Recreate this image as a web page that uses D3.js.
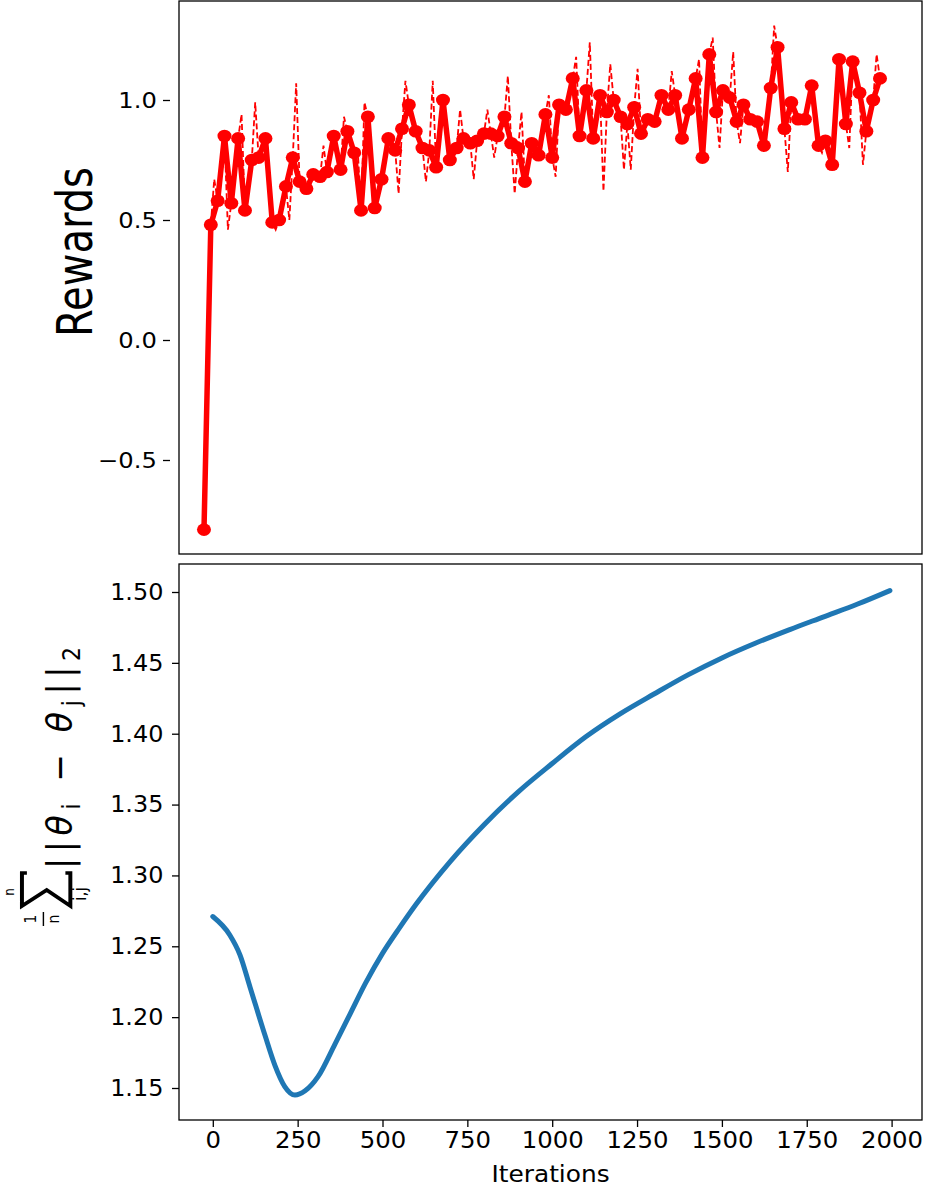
<!DOCTYPE html>
<html>
<head>
<meta charset="utf-8">
<script src="https://cdn.jsdelivr.net/npm/d3@7"></script>
<style>
body { margin: 0; background: #fff; }
svg { display: block; }
</style>
</head>
<body>
<script>
// rewards, one marker every sample
var rewards = [-0.79, 0.48, 0.58, 0.85, 0.57, 0.84, 0.54, 0.75, 0.76, 0.84,
  0.49, 0.50, 0.64, 0.76, 0.66, 0.63, 0.69, 0.68, 0.70, 0.85,
  0.71, 0.87, 0.78, 0.54, 0.93, 0.55, 0.67, 0.84, 0.79, 0.88,
  0.98, 0.87, 0.80, 0.79, 0.72, 1.00, 0.75, 0.80, 0.84, 0.82,
  0.83, 0.86, 0.86, 0.85, 0.93, 0.82, 0.80, 0.66, 0.82, 0.77,
  0.94, 0.76, 0.98, 0.96, 1.09, 0.85, 1.04, 0.84, 1.02, 0.95,
  1.00, 0.93, 0.90, 0.97, 0.86, 0.92, 0.91, 1.02, 0.96, 1.02,
  0.84, 0.96, 1.09, 0.76, 1.19, 0.95, 1.04, 1.01, 0.91, 0.98,
  0.92, 0.91, 0.81, 1.05, 1.22, 0.88, 0.99, 0.92, 0.92, 1.06,
  0.81, 0.83, 0.73, 1.17, 0.90, 1.16, 1.03, 0.87, 1.00, 1.09];

// raw rewards in between two markers (dashed line)
var rewardsBetween = [-0.16, 0.67, 0.72, 0.46, 0.70, 0.94, 0.64, 0.99, 0.80, 0.66,
  0.46, 0.57, 0.50, 1.07, 0.64, 0.66, 0.68, 0.81, 0.77, 0.78,
  0.93, 0.82, 0.80, 0.99, 0.74, 0.61, 0.75, 0.81, 0.61, 1.08,
  0.92, 0.83, 0.66, 1.08, 0.86, 0.87, 0.77, 0.96, 0.83, 0.67,
  0.84, 0.96, 0.76, 0.89, 1.10, 0.61, 0.95, 0.74, 0.80, 0.85,
  1.02, 0.68, 0.97, 1.02, 1.18, 0.95, 1.24, 0.93, 0.62, 1.15,
  0.96, 0.71, 0.71, 1.13, 0.89, 0.91, 0.97, 0.99, 1.12, 0.93,
  0.90, 1.03, 1.17, 0.97, 1.26, 0.80, 1.02, 1.20, 0.82, 0.95,
  0.91, 0.86, 0.93, 1.31, 1.05, 0.70, 0.96, 0.92, 0.99, 0.93,
  0.78, 0.78, 0.95, 1.03, 0.80, 1.10, 0.73, 0.94, 1.19];

// mean pairwise distance against iterations
var distIters = [0, 50, 80, 110, 154, 183, 212, 242, 272, 310, 360, 404, 450, 500, 550, 600, 700,
  800, 900, 1000, 1100, 1200, 1300, 1400, 1500, 1600, 1700, 1800, 1900, 1995];
var distValues = [1.271, 1.258, 1.244, 1.221, 1.187, 1.166, 1.151, 1.145, 1.148, 1.158, 1.181, 1.202, 1.224, 1.245, 1.263, 1.280, 1.310,
  1.336, 1.359, 1.379, 1.398, 1.414, 1.428, 1.4415, 1.4535, 1.464, 1.4735, 1.4825, 1.4915, 1.501];

var rewardTicks = [-0.5, 0.0, 0.5, 1.0];
var distTicks = [1.15, 1.20, 1.25, 1.30, 1.35, 1.40, 1.45, 1.50];
var iterTicks = [0, 250, 500, 750, 1000, 1250, 1500, 1750, 2000];

var width = 925, height = 1187;
var left = 179, right = 922;
var p1 = {top: 1, bottom: 554};
var p2 = {top: 564, bottom: 1120};
var font = "DejaVu Sans, sans-serif";

var svg = d3.select("body").append("svg")
    .attr("width", width)
    .attr("height", height);

// scales
var xr = d3.scaleLinear().domain([-3.66, 105.15]).range([left, right]);
var yr = d3.scaleLinear().domain([-0.5, 1.0]).range([460, 100]);
var xd = d3.scaleLinear().domain([0, 2000]).range([212.8, 891.6]);
var yd = d3.scaleLinear().domain([1.15, 1.50]).range([1088, 592]);

// ---- top panel: rewards
var raw = [];
rewards.forEach(function(v, i) {
  raw.push({i: i, v: v});
  if (i < rewardsBetween.length) raw.push({i: i + 0.5, v: rewardsBetween[i]});
});

var lineR = d3.line()
    .x(function(d) { return xr(d.i); })
    .y(function(d) { return yr(d.v); });

svg.append("path")
    .datum(raw)
    .attr("d", lineR)
    .attr("fill", "none")
    .attr("stroke", "#ff0000")
    .attr("stroke-width", 1.8)
    .attr("stroke-dasharray", "6,3");

svg.append("path")
    .datum(rewards.map(function(v, i) { return {i: i, v: v}; }))
    .attr("d", lineR)
    .attr("fill", "none")
    .attr("stroke", "#ff0000")
    .attr("stroke-width", 5.5)
    .attr("stroke-linejoin", "round");

svg.selectAll(".dot")
    .data(rewards)
  .enter().append("ellipse")
    .attr("cx", function(d, i) { return xr(i); })
    .attr("cy", function(d) { return yr(d); })
    .attr("rx", 7)
    .attr("ry", 6.3)
    .attr("fill", "#ff0000");

// ---- bottom panel: distance
svg.append("path")
    .datum(distIters.map(function(it, i) { return [it, distValues[i]]; }))
    .attr("d", d3.line()
      .x(function(d) { return xd(d[0]); })
      .y(function(d) { return yd(d[1]); })
      .curve(d3.curveMonotoneX))
    .attr("fill", "none")
    .attr("stroke", "#1f77b4")
    .attr("stroke-width", 5)
    .attr("stroke-linecap", "round");

// frames
[p1, p2].forEach(function(p) {
  svg.append("rect")
    .attr("x", left)
    .attr("y", p.top)
    .attr("width", right - left)
    .attr("height", p.bottom - p.top)
    .attr("fill", "none")
    .attr("stroke", "#000")
    .attr("stroke-width", 1.3);
});

// axes
function styleAxis(size, sx) {
  return function(g) {
    g.select(".domain").remove();
    g.attr("font-family", font).attr("font-size", size);
    g.selectAll(".tick line").attr("stroke-width", 1.3);
    g.selectAll(".tick text").attr("fill", "#000").attr("transform", "scale(" + sx + ",1)");
  };
}

// top panel ticks sit a little off the spine, as in the source
svg.append("g")
    .attr("transform", "translate(" + (left - 9) + ",0)")
    .call(d3.axisLeft(yr).tickValues(rewardTicks).tickSize(7).tickPadding(5).tickFormat(d3.format(".1f")))
    .call(styleAxis(22, 1.1));

svg.append("g")
    .attr("transform", "translate(" + left + ",0)")
    .call(d3.axisLeft(yd).tickValues(distTicks).tickSize(7).tickPadding(8).tickFormat(d3.format(".2f")))
    .call(styleAxis(23, 1.04));

svg.append("g")
    .attr("transform", "translate(0," + p2.bottom + ")")
    .call(d3.axisBottom(xd).tickValues(iterTicks).tickSize(7).tickPadding(5).tickFormat(d3.format("d")))
    .call(styleAxis(23, 1.06));

// axis titles
svg.append("text")
    .attr("transform", "translate(" + ((left + right) / 2) + ",1182) scale(1.08,1)")
    .attr("text-anchor", "middle")
    .attr("font-family", font)
    .attr("font-size", 23)
    .text("Iterations");

svg.append("text")
    .attr("transform", "translate(92,252) scale(1.25,1) rotate(-90)")
    .attr("text-anchor", "middle")
    .attr("font-family", font)
    .attr("font-size", 40)
    .text("Rewards");

// (1/n) sum_{i,j}^n ||theta_i - theta_j||_2
var lab = svg.append("g")
    .attr("transform", "translate(72,900) scale(1.1,1) rotate(-90)")
    .attr("font-family", font)
    .attr("fill", "#000");

lab.append("text").attr("x", -19).attr("y", -33).attr("font-size", 14)
    .attr("text-anchor", "middle").text("1");
lab.append("line").attr("x1", -26).attr("x2", -12).attr("y1", -26).attr("y2", -26)
    .attr("stroke", "#000").attr("stroke-width", 1.3);
lab.append("text").attr("x", -19).attr("y", -12).attr("font-size", 14)
    .attr("text-anchor", "middle").text("n");
lab.append("path")
    .attr("d", "M27,-41L27,-45.5L-6,-45.5L10,-23L-6,-1.5L27,-1.5L27,-6")
    .attr("fill", "none")
    .attr("stroke", "#000")
    .attr("stroke-width", 3.6)
    .attr("stroke-linejoin", "miter");
lab.append("text").attr("x", 8).attr("y", -53).attr("font-size", 12)
    .attr("text-anchor", "middle").text("n");
lab.append("text").attr("x", 6).attr("y", 13).attr("font-size", 16)
    .attr("text-anchor", "middle").text("i,j");

var norm = lab.append("text").attr("x", 31).attr("y", 0).attr("font-size", 33)
    .attr("textLength", 222).attr("lengthAdjust", "spacing");
norm.append("tspan").text("||");
norm.append("tspan").attr("font-style", "italic").text("\u03b8");
norm.append("tspan").attr("font-size", 22).attr("dy", 7).text("i");
norm.append("tspan").attr("dy", -7).text(" \u2212 ");
norm.append("tspan").attr("font-style", "italic").text("\u03b8");
norm.append("tspan").attr("font-size", 22).attr("dy", 7).text("j");
norm.append("tspan").attr("dy", -7).text("||");
norm.append("tspan").attr("font-size", 22).attr("dy", 7).text("2");
</script>
</body>
</html>
